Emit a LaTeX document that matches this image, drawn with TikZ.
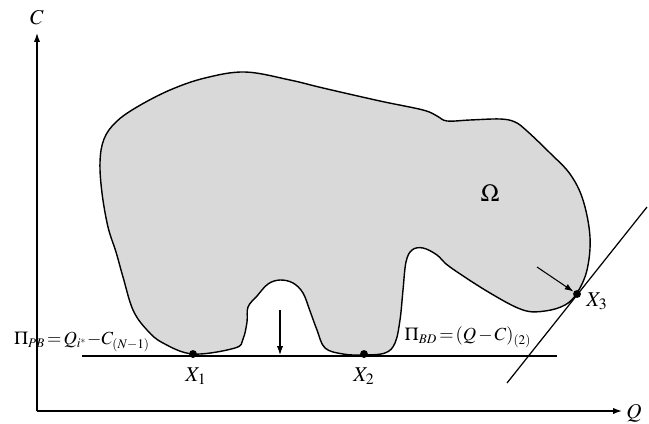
\documentclass[tikz,border=0pt]{standalone}
\usepackage{mathptmx}
\usetikzlibrary{arrows.meta}
\definecolor{regiongray}{RGB}{217,217,217}
\DeclareMathSizes{10.5}{10.5}{7.5}{5.5}

\begin{document}
\begin{tikzpicture}[x=0.02cm, y=-0.02cm, line join=round, font=\fontsize{12}{14}\selectfont,
    axis/.style={line width=0.7pt, -{Latex[length=5pt,width=3.5pt]}},
    pointer/.style={line width=0.6pt, -{Latex[length=5pt,width=3.5pt]}},
    dot/.style={circle, fill, inner sep=0pt, minimum size=4.5pt},
    profit/.style={inner sep=0pt, font=\fontsize{10.5}{13}\selectfont}]
    \useasboundingbox (0,0) rectangle (649,423);
    % axes
    \coordinate (O) at (37,411);
    \coordinate (Ctop) at (37,33);
    \coordinate (Qend) at (622,411);
    \draw[axis] (O) -- (Ctop);
    \draw[axis] (O) -- (Qend);
    \node (clab) at (37,18) {$C$};
    \node (qlab) at (634,413) {$Q$};
    % the region Omega
    \draw[line width=0.8pt, fill=regiongray] plot[smooth cycle, tension=0.6] coordinates {
        (245,72) (290,80) (323,88) (380,101) (423,110) (437,116) (447,121) (470,120)
        (500,119) (515,122) (527,131) (550,153) (570,174) (583,200) (590,237) (587,270)
        (577,293) (565,305) (545,311) (523,310) (490,293) (450,267) (437,255) (423,248)
        (412,250) (406,262) (403,290) (400,320) (395,343) (385,353) (363,355) (343,354)
        (325,348) (317,330) (310,311) (303,293) (293,283) (280,280) (268,284) (257,296)
        (248,307) (247,322) (243,339) (235,348) (193,354) (163,343) (147,330) (133,310)
        (123,277) (116,252) (108,227) (102,193) (100,162) (104,139) (116,122) (137,107)
        (170,90) (205,78)};
    \node[font=\fontsize{14}{16}\selectfont] (omega) at (490,193) {$\Omega$};
    % supporting lines
    \coordinate (bl) at (82,356);
    \coordinate (br) at (557,356);
    \draw[line width=0.7pt] (bl) -- (br);
    \coordinate (t1) at (507,383);
    \coordinate (t2) at (647,207);
    \draw[line width=0.7pt] (t1) -- (t2);
    % touching points
    \node[dot] (X1) at (193,354) {};
    \node[dot] (X2) at (364,354) {};
    \node[dot] (X3) at (577,294) {};
    \node (x1lab) at (196,376) {$X_1$};
    \node (x2lab) at (364,376) {$X_2$};
    \node (x3lab) at (597,301) {$X_3$};
    % directions
    \coordinate (dtop) at (280,310);
    \coordinate (dbot) at (280,355);
    \draw[pointer] (dtop) -- (dbot);
    \coordinate (a3) at (537,267);
    \draw[pointer] (a3) -- (X3);
    % profit labels
    \node[profit] (pb) at (82,342) {$\Pi_{PB}\mkern2mu{=}\mkern2mu Q_{i^*}{-}C_{(N{-}1)}$};
    \node[profit] (bd) at (468,337) {$\Pi_{BD}\mkern2mu{=}\mkern2mu(Q\mkern2mu{-}\mkern2mu C)_{(2)}$};
\end{tikzpicture}
\end{document}
